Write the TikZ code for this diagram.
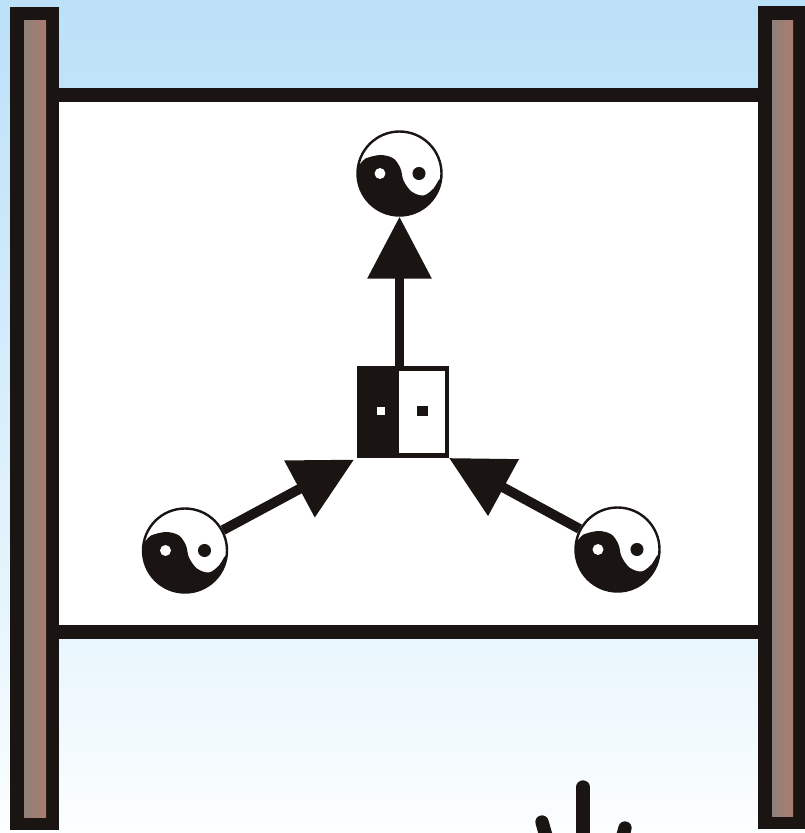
\documentclass[tikz,border=0pt]{standalone}
\usetikzlibrary{arrows.meta}
\definecolor{ink}{HTML}{1A1412}
\definecolor{skytop}{HTML}{BBE0F8}
\definecolor{skymid}{HTML}{E9F6FD}
\definecolor{skylow}{HTML}{FCFEFF}
\definecolor{brownl}{HTML}{8E8178}
\definecolor{brownr}{HTML}{AB7B70}
\tikzset{
  x=0.75pt,y=-0.75pt,
  post/.style={fill=ink},
  postcore/.style={left color=brownl,right color=brownr},
  beam/.style={line width=10.5pt,draw=ink},
  ring/.style={circle,draw=ink,line width=1.8pt,minimum size=63pt,inner sep=0pt},
  conn/.style={draw=ink,line width=7.4pt,-{Triangle[length=46.5pt,width=46.5pt,color=ink]},shorten >=2.5pt},
  halfdark/.style={rectangle,fill=ink,minimum width=31.5pt,minimum height=69pt,inner sep=0pt,outer sep=0pt},
  halflight/.style={rectangle,draw=ink,fill=white,line width=3.4pt,minimum width=37.9pt,minimum height=65.6pt,inner sep=0pt},
  finger/.style={draw=ink,line width=10pt,line cap=round},
  yy/.pic={
    \begin{scope}
      \clip (0,0) circle[radius=31pt];
      \fill[ink] plot[smooth,tension=0.55] coordinates {(-46,-6) (-39,-10) (-34,-15) (-19,-18.5) (-6,-15) (1,-5) (4,7) (12,18) (24,22) (34,15) (39,7) (46,0)} -- (50,60) -- (-50,60) -- cycle;
    \end{scope}
    \fill[white] (-19.5,0) circle[radius=4.1pt];
    \fill[ink] (19.5,0) circle[radius=4.9pt];
  }
}
\begin{document}
\begin{tikzpicture}
\useasboundingbox (0,0) rectangle (805,833);
\shade[top color=skytop,bottom color=skymid] (0,0) rectangle (805,640);
\shade[top color=skymid,bottom color=skylow] (0,640) rectangle (805,833);
% panel and beams
\fill[white] (59,95) rectangle (758,632);
\draw[beam] (50,95) -- (765,95);
\draw[beam] (50,632) -- (765,632);
% posts
\fill[post] (10,7) rectangle (59,830);
\fill[postcore] (24,20) rectangle (46,817);
\fill[post] (758,6) rectangle (805,829);
\fill[postcore] (772,20) rectangle (793,816);
% yin-yang nodes
\node[ring] (yt) at (399.5,173.5) {};
\node[ring] (yl) at (185,550.5) {};
\node[ring] (yr) at (617.5,549.5) {};
\pic at (yt) {yy};
\pic at (yl) {yy};
\pic at (yr) {yy};
% central box
\node[halfdark] (bh) at (378,412) {};
\node[halflight] (wh) at (421.5,412) {};
\node[fill=white,minimum size=6pt,inner sep=0pt] (sw) at (381,411) {};
\node[fill=ink,minimum size=8pt,inner sep=0pt] (sb) at (422.5,411) {};
\coordinate (bt) at (399.5,370);
% connectors
\draw[conn,shorten >=0pt] (bt) -- (yt);
\draw[conn] (yl) -- (bh.south west);
\draw[conn,shorten >=0pt] (yr) -- (wh.south east);
% fingers at the bottom
\begin{scope}
\clip (0,0) rectangle (805,833);
\draw[finger] (583,787) -- (583,850);
\draw[finger] (542,822) -- (550,850);
\draw[finger] (625,828) -- (619,850);
\end{scope}
\end{tikzpicture}
\end{document}
